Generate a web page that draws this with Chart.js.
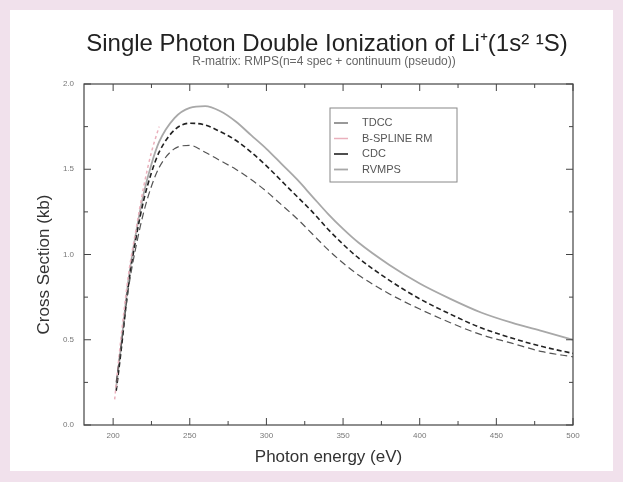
<!DOCTYPE html>
<html>
<head>
<meta charset="utf-8">
<script src="https://cdn.jsdelivr.net/npm/chart.js@4"></script>
<style>
  html, body { margin: 0; padding: 0; background: #f1e1ec; }
  #panel { position: absolute; left: 10px; top: 10px; width: 603px; height: 461px; background: #fff; }
  #chart { display: block; }
</style>
</head>
<body>
<div id="panel"><canvas id="chart" width="603" height="461"></canvas></div>
<script>
const energies = [202, 205, 210, 215, 220, 225, 230, 240, 250, 260, 270, 280, 290, 300, 310, 320, 330, 340, 350, 360, 380, 400, 420, 440, 460, 480, 500];
const rvmps    = [0.22, 0.45, 0.85, 1.13, 1.36, 1.53, 1.66, 1.80, 1.86, 1.87, 1.84, 1.78, 1.70, 1.62, 1.53, 1.44, 1.34, 1.24, 1.15, 1.07, 0.94, 0.83, 0.74, 0.66, 0.60, 0.55, 0.50];
const cdc      = [0.20, 0.42, 0.82, 1.10, 1.32, 1.48, 1.60, 1.73, 1.77, 1.76, 1.72, 1.67, 1.60, 1.52, 1.43, 1.34, 1.25, 1.15, 1.06, 0.98, 0.85, 0.74, 0.65, 0.57, 0.51, 0.46, 0.42];
const tdcc     = [0.25, 0.45, 0.80, 1.05, 1.25, 1.40, 1.51, 1.62, 1.64, 1.60, 1.55, 1.50, 1.44, 1.37, 1.29, 1.21, 1.12, 1.03, 0.95, 0.88, 0.77, 0.68, 0.60, 0.53, 0.48, 0.43, 0.40];
const bsplineE = [201, 205, 210, 215, 220, 225, 230];
const bspline  = [0.15, 0.50, 0.88, 1.15, 1.40, 1.60, 1.75];
const xTicks = [200, 250, 300, 350, 400, 450, 500];
const yTicks = [0.0, 0.5, 1.0, 1.5, 2.0];
const legendLabels = ["TDCC", "B-SPLINE RM", "CDC", "RVMPS"];
const titleText = "Single Photon Double Ionization of Li⁺(1s² ¹S)";
const subtitleText = "R-matrix: RMPS(n=4 spec + continuum (pseudo))";

const pts = (xs, ys) => xs.map((x, i) => ({ x, y: ys[i] }));
const FONT = "Arial, 'Liberation Sans', sans-serif";

// titles, inward tick marks, box, legend
const decor = {
    id: "decor",
    afterDraw(chart) {
        const { ctx, chartArea: a, scales } = chart;
        ctx.save();
        ctx.fillStyle = "#222";
        ctx.textAlign = "center";
        ctx.textBaseline = "middle";
        ctx.font = `24px ${FONT}`;
        ctx.fillText(titleText, 317, 34);
        ctx.fillStyle = "#666";
        ctx.font = `12px ${FONT}`;
        ctx.fillText(subtitleText, 314, 52);

        ctx.fillStyle = "#333";
        ctx.font = `17px ${FONT}`;
        ctx.fillText("Photon energy (eV)", (a.left + a.right) / 2, a.bottom + 32);
        ctx.save();
        ctx.translate(34, (a.top + a.bottom) / 2 + 10);
        ctx.rotate(-Math.PI / 2);
        ctx.fillText("Cross Section (kb)", 0, 0);
        ctx.restore();

        ctx.strokeStyle = "#444";
        ctx.lineWidth = 1.2;
        ctx.strokeRect(a.left, a.top, a.right - a.left, a.bottom - a.top);
        ctx.lineWidth = 1;
        for (let v = 200; v <= 500; v += 25) {
            const px = scales.x.getPixelForValue(v);
            const len = v % 50 === 0 ? 7 : 4;
            ctx.beginPath();
            ctx.moveTo(px, a.bottom); ctx.lineTo(px, a.bottom - len);
            ctx.moveTo(px, a.top); ctx.lineTo(px, a.top + len);
            ctx.stroke();
        }
        for (let k = 0; k <= 8; k++) {
            const py = scales.y.getPixelForValue(k * 0.25);
            const len = k % 2 === 0 ? 7 : 4;
            ctx.beginPath();
            ctx.moveTo(a.left, py); ctx.lineTo(a.left + len, py);
            ctx.moveTo(a.right, py); ctx.lineTo(a.right - len, py);
            ctx.stroke();
        }
        // legend box
        const lx = 320, ly = 98, lw = 127, lh = 74;
        ctx.strokeStyle = "#888";
        ctx.strokeRect(lx, ly, lw, lh);
        ctx.font = `11px ${FONT}`;
        ctx.textAlign = "left";
        chart.data.datasets.forEach((ds, i) => {
            const yy = ly + 15 + i * 15.5;
            ctx.strokeStyle = ds.borderColor;
            ctx.lineWidth = ds.borderWidth;
            ctx.beginPath();
            ctx.moveTo(lx + 4, yy); ctx.lineTo(lx + 18, yy);
            ctx.stroke();
            ctx.fillStyle = "#555";
            ctx.fillText(legendLabels[i], lx + 32, yy);
        });
        ctx.restore();
    }
};

new Chart(document.getElementById("chart"), {
    type: "line",
    data: {
        datasets: [
            { label: "TDCC", data: pts(energies, tdcc), borderColor: "#555", borderWidth: 1.2, borderDash: [7, 4] },
            { label: "B-SPLINE RM", data: pts(bsplineE, bspline), borderColor: "#eab0bc", borderWidth: 1.5, borderDash: [3, 3] },
            { label: "CDC", data: pts(energies, cdc), borderColor: "#222", borderWidth: 1.6, borderDash: [5, 3] },
            { label: "RVMPS", data: pts(energies, rvmps), borderColor: "#a8a8a8", borderWidth: 1.8 },
        ]
    },
    options: {
        responsive: false,
        animation: false,
        elements: { point: { radius: 0 }, line: { cubicInterpolationMode: "monotone" } },
        layout: { padding: { top: 74, right: 40, bottom: 26, left: 8 } },
        plugins: {
            legend: { display: false },
            tooltip: { enabled: false }
        },
        scales: {
            x: {
                type: "linear",
                min: 181, max: 500,
                afterBuildTicks: s => { s.ticks = xTicks.map(v => ({ value: v })); },
                afterFit: s => { s.height = 20; },
                grid: { display: false, drawTicks: false },
                border: { display: false },
                ticks: { color: "#777", font: { size: 8 }, padding: 6 }
            },
            y: {
                min: 0, max: 2.0,
                afterBuildTicks: s => { s.ticks = yTicks.map(v => ({ value: v })); },
                afterFit: s => { s.width = 66; },
                grid: { display: false, drawTicks: false },
                border: { display: false },
                ticks: { color: "#777", font: { size: 8 }, padding: 10, callback: v => v.toFixed(1) }
            }
        }
    },
    plugins: [decor]
});
</script>
</body>
</html>
